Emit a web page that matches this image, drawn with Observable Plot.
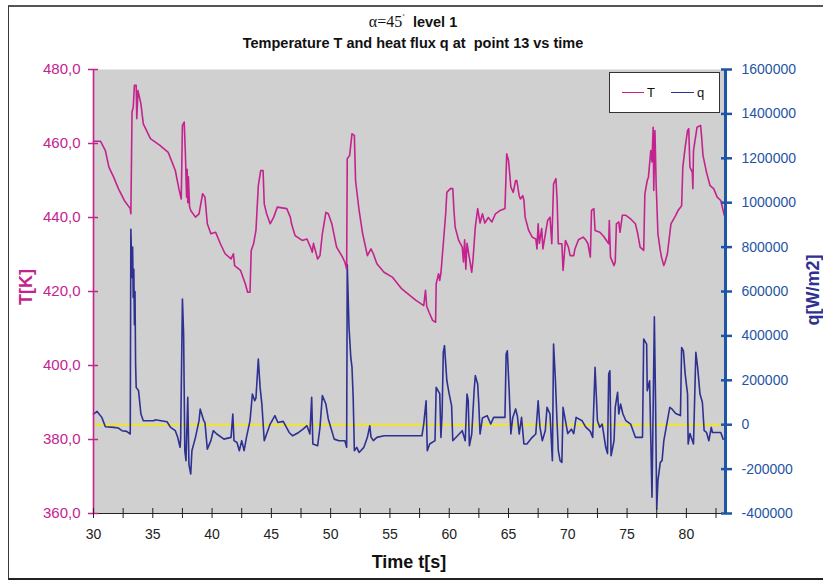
<!DOCTYPE html>
<html><head><meta charset="utf-8">
<script src="https://cdn.jsdelivr.net/npm/d3@7"></script>
<script src="https://cdn.jsdelivr.net/npm/@observablehq/plot@0.6"></script>
<style>
body{margin:0;background:#fff;font-family:"Liberation Sans",Arial,sans-serif;}
#wrap{position:relative;width:823px;height:580px;overflow:hidden;background:#fff}
#chart svg{position:absolute;left:0;top:0}
.abs{position:absolute;white-space:nowrap}
#border{position:absolute;left:8px;top:5px;width:900px;height:571px;border-left:1.5px solid #3a3a3a;border-top:2px solid #555;border-bottom:2px solid #222}
.t1{left:0;width:826px;top:13px;text-align:center;font-size:14.5px;color:#111}
.t2{left:0;width:826px;top:35px;text-align:center;font-size:14.5px;font-weight:bold;color:#111}
.ylab{font-weight:bold;font-size:18px;transform:translate(-50%,-50%) rotate(-90deg)}
#legend{position:absolute;left:609px;top:72px;width:111px;height:41px;background:#fff;border:1px solid #333;box-sizing:border-box}
</style></head><body>
<div id="wrap">
<div id="chart"></div>
<div id="border"></div>
<div class="abs t1"><span style="font-family:'Liberation Serif','DejaVu Serif',serif;font-size:16px">&alpha;=45<sup style="font-size:8px;vertical-align:7px">&#730;</sup></span>&nbsp;&nbsp;<b>level 1</b></div>
<div class="abs t2">Temperature T and heat flux q at&nbsp; point 13 vs time</div>
<div class="abs ylab" style="left:26px;top:287px;color:#c4238f">T[K]</div>
<div class="abs ylab" style="left:813px;top:290px;color:#2e3192">q[W/m2]</div>
<div class="abs" style="left:0;width:818px;top:552px;text-align:center;font-size:18px;font-weight:bold;color:#111">Time t[s]</div>
<div id="legend">
  <div class="abs" style="left:12px;top:19px;width:22px;height:0;border-top:1.5px solid #c4238f"></div>
  <div class="abs" style="left:37px;top:12px;font-size:13px;color:#111">T</div>
  <div class="abs" style="left:61px;top:19px;width:23px;height:0;border-top:1.5px solid #2e3192"></div>
  <div class="abs" style="left:87px;top:12px;font-size:13px;color:#111">q</div>
</div>
</div>
<script>
// Temperature T [K] vs time [s]
const tTime = [30.0,30.6,31.0,31.3,31.7,32.1,32.6,33.1,33.15,33.25,33.35,33.45,33.6,33.65,33.75,34.0,34.2,34.8,35.6,36.3,36.9,37.2,37.4,37.5,37.65,37.75,37.85,37.9,37.95,38.0,38.1,38.2,38.6,38.9,39.2,39.4,39.6,39.9,40.3,40.7,41.1,41.6,41.8,41.9,42.4,42.8,43.0,43.2,43.3,43.5,43.7,43.9,44.1,44.3,44.4,44.6,44.9,45.2,45.5,46.3,46.6,46.7,47.0,47.6,48.0,48.3,48.45,48.55,48.9,49.1,49.3,49.6,49.8,50.1,50.5,51.0,51.2,51.35,51.4,51.6,51.8,52.0,52.1,52.4,52.7,53.1,53.4,53.6,53.9,54.5,55.2,56.0,56.7,57.2,57.85,58.0,58.1,58.3,58.6,58.85,58.9,59.1,59.2,59.3,59.5,59.7,59.8,60.1,60.3,60.4,60.5,60.8,61.1,61.2,61.3,61.4,61.5,61.9,62.0,62.2,62.4,62.6,62.8,63.0,63.3,63.6,63.9,64.3,64.7,64.85,65.0,65.2,65.4,65.6,65.7,65.9,66.0,66.2,66.3,66.4,66.7,67.0,67.3,67.4,67.5,67.6,67.8,67.9,68.3,68.5,68.65,68.8,69.0,69.1,69.2,69.5,69.6,69.8,70.05,70.2,70.5,70.6,70.9,71.3,71.5,71.7,71.9,72.0,72.2,72.3,72.7,73.0,73.45,73.5,73.6,73.9,74.0,74.1,74.3,74.4,74.6,74.9,75.3,75.7,75.9,76.1,76.4,76.5,76.7,76.8,77.0,77.1,77.2,77.25,77.35,77.45,77.6,77.8,77.9,78.1,78.2,78.4,78.7,79.1,79.3,79.6,79.7,79.9,80.1,80.2,80.3,80.5,80.55,80.6,80.9,81.2,81.3,81.4,81.7,82.0,82.3,82.6,82.9,83.2];
const tempT = [460.6,460.6,458.1,453.6,450.9,447.8,444.6,442.4,441.0,468.5,469.8,475.7,475.7,466.7,474.3,470.7,465.3,461.3,459.5,457.6,452.7,447.8,445.0,464.9,465.8,457.2,445.5,453,444,451,443,441.9,440.1,441.0,446.4,445.5,438.3,435.6,436.0,432.9,430.2,428.8,430.2,427.0,425.7,422.1,419.8,419.8,431.1,432.9,436.5,448.6,452.7,452.7,443.7,441.0,438.3,440.1,442.8,442.4,440.1,438.3,435.1,433.8,434.2,432,430.6,433,428.8,429.7,435.6,441.4,441.0,438.3,432.0,429.3,427.9,426.1,455.9,456.8,462.6,462.2,450.0,441.9,435.6,429.7,431.5,430.2,427.5,425.2,423.9,420.7,418.9,417.6,416.2,420.3,416,414.4,412.2,411.7,422.1,424.8,423,425,432.9,441.0,446.8,447.8,447.8,441.9,437.4,433.8,432.0,428,434,426,433,425.2,428.4,437.4,442.4,438.5,441,438.5,440,438.8,441.0,441.9,442.4,457.2,455.4,448.2,446.8,450.0,450.0,445.9,445.0,445.9,444.6,440.1,436.5,434.7,434.2,431.5,438.3,433,437,431.5,439.2,440.1,432.9,449.1,450.5,444.6,432.9,432.9,425.7,433.8,432.0,429.7,429.7,431.5,434,434.7,434,432.9,429.3,441.9,442.4,436.5,436.0,435,432.9,439.2,429.3,427.0,428,438.3,438.8,436.0,440.6,440.6,439.6,438.3,435.6,432.0,431.1,446.4,450.0,450.9,458.1,455,464.4,447.3,463.5,449.1,435.6,431.1,429.3,427.0,427.9,430.2,438.3,440.6,441.9,443.2,453.6,459.0,463.5,464.0,453.6,452.2,447.8,458.1,464.4,464.9,461.3,456.8,452.2,448.6,447.8,445.5,444.6,440.6];

// Heat flux q [W/m2] vs time [s]
const qTime = [30.0,30.3,30.7,31.0,31.7,32.1,32.4,32.8,33.1,33.15,33.25,33.3,33.35,33.4,33.45,33.5,33.55,33.6,33.8,34.0,34.2,35.1,35.2,36.2,36.5,36.9,37.1,37.3,37.35,37.5,37.6,37.7,37.8,37.95,38.05,38.2,38.3,38.6,38.9,39.0,39.3,39.4,39.6,39.9,40.1,40.4,41.0,41.6,41.75,41.85,42.1,42.3,42.5,42.7,42.9,43.2,43.4,43.6,43.7,43.9,44.05,44.2,44.4,44.6,44.9,45.3,45.55,46.0,46.5,46.8,47.3,47.7,48.0,48.25,48.4,48.5,48.9,49.1,49.3,49.6,49.8,50.3,50.7,51.2,51.35,51.4,51.55,51.7,51.8,51.9,52.0,52.2,52.4,52.8,53.1,53.3,53.4,53.6,53.9,54.5,55.1,56.7,57.7,57.85,58.05,58.15,58.35,58.8,58.9,59.2,59.3,59.4,59.5,59.6,59.8,60.0,60.2,60.3,60.7,61.1,61.35,61.5,61.6,61.7,61.9,62.1,62.2,62.4,62.5,62.6,62.8,63.2,63.5,63.75,64.7,64.8,64.9,65.05,65.2,65.35,65.6,65.75,65.9,66.1,66.3,66.55,67.0,67.3,67.5,67.65,67.85,68.1,68.25,68.5,68.7,68.8,68.95,69.1,69.2,69.35,69.5,69.6,69.8,70.0,70.3,70.5,70.7,71.2,71.5,71.9,72.1,72.3,72.5,72.7,72.9,73.2,73.35,73.45,73.55,73.65,73.9,74.0,74.2,74.3,74.45,74.65,74.9,75.3,75.7,76.3,76.4,76.65,76.7,76.9,77.1,77.3,77.4,77.5,77.6,77.8,77.95,78.1,78.4,78.6,78.8,79.1,79.5,79.6,79.75,79.9,80.1,80.15,80.3,80.6,80.8,80.95,81.15,81.35,81.5,81.7,81.9,82.1,82.2,82.9,83.1];
const fluxQ = [48000,60000,33000,-9000,-12000,-15000,-27000,-30000,-42000,880000,663000,800000,573000,700000,450000,600000,273000,168000,153000,48000,18000,18000,22000,13500,-12000,-27000,-57000,-102000,-60000,566000,408000,-117000,-162000,123000,-180000,-222000,-117000,-57000,18000,70000,18000,9000,-110000,-72000,-27000,-42000,-65000,-57000,48000,-72000,-80000,-117000,-72000,-117000,-57000,18000,138000,108000,120000,296000,168000,93000,-72000,-42000,3000,41000,10000,15000,-35000,-50000,-35000,-19000,-4500,-42000,123000,-87000,-95000,-12000,131000,93000,26000,-65000,-72000,-72000,-102000,720000,438000,303000,258000,123000,-117000,-102000,-125000,-102000,-57000,-4500,-55000,-72000,-57000,-50000,-50000,-50000,-50000,3000,108000,-117000,-87000,-72000,168000,140000,-57000,48000,326000,356000,198000,138000,86000,-72000,-50000,-27000,-72000,138000,110000,-95000,-42000,153000,221000,183000,86000,-42000,30000,41000,3000,33000,33000,318000,333000,161000,-42000,30000,71000,38000,-42000,33000,-87000,-87000,-57000,-42000,108000,-10000,-72000,-27000,78000,48000,-162000,363000,206000,3000,-117000,-162000,-170000,78000,18000,-40000,-20000,-40000,33000,18000,-10000,-30000,-57000,258000,18000,-12000,3000,-102000,-130000,228000,243000,-140000,-72000,78000,146000,48000,93000,48000,18000,3000,-57000,-57000,386000,363000,153000,198000,-327000,486000,108000,-380000,-252000,-170000,-162000,-72000,18000,78000,70000,50000,41000,348000,333000,228000,138000,-87000,-40000,-87000,326000,258000,138000,101000,-27000,-35000,-72000,-12000,-35000,-35000,-65000];

const tempTicks = [360,380,400,420,440,460,480];
const fluxTicks = [-400000,-200000,0,200000,400000,600000,800000,1000000,1200000,1400000,1600000];
const timeLabels = [30,35,40,45,50,55,60,65,70,75,80];
const timeTicks = [30,32.5,35,37.5,40,42.5,45,47.5,50,52.5,55,57.5,60,62.5,65,67.5,70,72.5,75,77.5,80,82.5];
const timeDomain = [30, 83.3];
const tempDomain = [360, 480];
const fluxDomain = [-400000, 1600000];

const magenta = "#c4238f", navy = "#2e3192", blue = "#1f55a5", yellow = "#f2e42a";

// secondary axis: map q linearly onto the T scale
const qToT = q => tempDomain[0] + (q - fluxDomain[0]) * (tempDomain[1]-tempDomain[0]) / (fluxDomain[1]-fluxDomain[0]);
const tToQ = v => fluxDomain[0] + (v - tempDomain[0]) * (fluxDomain[1]-fluxDomain[0]) / (tempDomain[1]-tempDomain[0]);

const tData = tTime.map((t,i)=>({t, v: tempT[i]}));
const qData = qTime.map((t,i)=>({t, v: qToT(fluxQ[i])}));

const chart = Plot.plot({
  width: 823, height: 580,
  marginLeft: 93, marginRight: 98, marginTop: 69, marginBottom: 67,
  x: {domain: timeDomain},
  y: {domain: tempDomain},
  style: {fontFamily: "'Liberation Sans', Arial, sans-serif", fontSize: "14px", background: "transparent", overflow: "visible"},
  marks: [
    Plot.frame({fill: "#d0d0d0", stroke: null}),
    Plot.ruleY([0].map(qToT), {stroke: yellow, strokeWidth: 2}),
    Plot.line(qData, {x: "t", y: "v", stroke: navy, strokeWidth: 1.6}),
    Plot.line(tData, {x: "t", y: "v", stroke: magenta, strokeWidth: 1.6}),
    Plot.ruleY([tempDomain[0]], {stroke: "#222", strokeWidth: 1.2}),
    Plot.ruleX([timeDomain[0]], {stroke: magenta, strokeWidth: 1.6}),
    Plot.ruleX([timeDomain[1]], {stroke: blue, strokeWidth: 3}),
    Plot.axisY({ticks: tempTicks, tickFormat: d => d.toFixed(1).replace(".", ","), tickSize: 5, tickPadding: 8, color: magenta, strokeWidth: 1.5, fontSize: 15, label: null}),
    Plot.axisY({ticks: tempTicks, tickFormat: () => "", tickSize: -5, color: magenta, strokeWidth: 1.5, label: null}),
    Plot.axisY({anchor: "right", ticks: fluxTicks.map(qToT), tickFormat: d => String(Math.round(tToQ(d)/1000)*1000), tickSize: 6, tickPadding: 10, color: blue, strokeWidth: 2.5, label: null}),
    Plot.axisY({anchor: "right", ticks: fluxTicks.map(qToT), tickFormat: () => "", tickSize: -5, color: blue, strokeWidth: 2.5, label: null}),
    Plot.axisX({ticks: timeLabels, tickSize: 0, tickPadding: 16, color: "#222", label: null}),
    Plot.axisX({ticks: timeTicks, tickFormat: () => "", tickSize: 5, color: "#222", label: null}),
    Plot.axisX({ticks: timeTicks, tickFormat: () => "", tickSize: -5, color: "#222", label: null})
  ]
});
document.getElementById("chart").appendChild(chart);
</script>
</body></html>
